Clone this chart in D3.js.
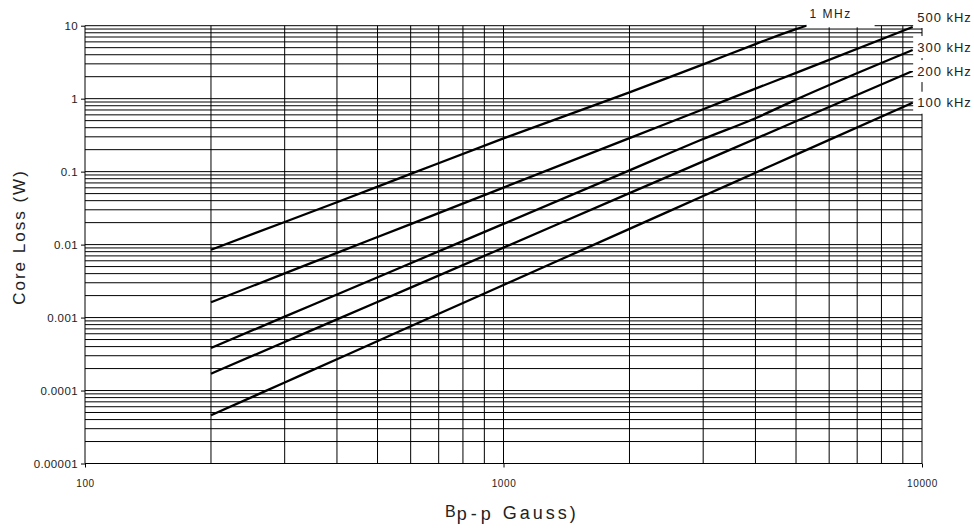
<!DOCTYPE html>
<html>
<head>
<meta charset="utf-8">
<script src="https://cdn.jsdelivr.net/npm/d3@7"></script>
<style>
    body { margin: 0; background: #fff; }
    text { font-family: "Liberation Sans", Arial, sans-serif; fill: #222; }
</style>
</head>
<body>
<div id="chart"></div>
<script>
// flux density (gauss) where the curves were read
const bGauss = [200, 300, 400, 600, 1000, 2000, 3000, 4000, 5000, 9500];
const bGauss1M = [200, 300, 400, 600, 1000, 2000, 3000, 4000, 5000, 5300];

const loss1MHz = [0.0085, 0.0204, 0.038, 0.093, 0.285, 1.22, 2.95, 5.6, 9.0, 10];
const loss500k = [0.00162, 0.00403, 0.0077, 0.0191, 0.0605, 0.288, 0.716, 1.37, 2.26, 9.6];
const loss300k = [0.000383, 0.00103, 0.00207, 0.00556, 0.0192, 0.104, 0.280, 0.54, 0.97, 4.64];
const loss200k = [0.00017, 0.000463, 0.000944, 0.00257, 0.0091, 0.0507, 0.138, 0.282, 0.49, 2.39];
const loss100k = [0.0000458, 0.000129, 0.000269, 0.00076, 0.0028, 0.0164, 0.0463, 0.0966, 0.171, 0.88];

const seriesNames = ["1 MHz", "500 kHz", "300 kHz", "200 kHz", "100 kHz"];
const xTickLabels = ["100", "1000", "10000"];
const yTickLabels = ["0.00001", "0.0001", "0.001", "0.01", "0.1", "1", "10"];

const width = 974;
const height = 529;

const series = [
    { name: seriesNames[0], b: bGauss1M, v: loss1MHz },
    { name: seriesNames[1], b: bGauss, v: loss500k },
    { name: seriesNames[2], b: bGauss, v: loss300k },
    { name: seriesNames[3], b: bGauss, v: loss200k },
    { name: seriesNames[4], b: bGauss, v: loss100k }
];

const x = d3.scaleLog().domain([100, 10000]).range([85, 922]);
const y = d3.scaleLog().domain([0.00001, 10]).range([463.5, 25.7]);

const svg = d3.select("#chart").append("svg")
    .attr("width", width)
    .attr("height", height);

// grid: every 1..9 of each decade
const xGrid = [];
for (let e = 2; e < 4; e++) for (let k = 1; k < 10; k++) xGrid.push(k * Math.pow(10, e));
xGrid.push(10000);
const yGrid = [];
for (let e = -5; e < 1; e++) for (let k = 1; k < 10; k++) yGrid.push(k * Math.pow(10, e));
yGrid.push(10);

svg.append("g").selectAll("line")
    .data(yGrid)
    .enter().append("line")
    .attr("x1", x(100)).attr("x2", x(10000))
    .attr("y1", d => y(d)).attr("y2", d => y(d))
    .style("stroke", "#000")
    .style("stroke-width", 1);

svg.append("g").selectAll("line")
    .data(xGrid)
    .enter().append("line")
    .attr("x1", d => x(d)).attr("x2", d => x(d))
    .attr("y1", y(10)).attr("y2", y(0.00001))
    .style("stroke", "#000")
    .style("stroke-width", 1);

// curves
const line = d3.line()
    .x(d => x(d[0]))
    .y(d => y(d[1]))
    .curve(d3.curveMonotoneX);

svg.append("g").selectAll("path")
    .data(series)
    .enter().append("path")
    .attr("d", s => line(s.b.map((b, i) => [b, s.v[i]])))
    .style("fill", "none")
    .style("stroke", "#000")
    .style("stroke-width", 2.3);

// axes ticks (decades only)
const xAxis = d3.axisBottom(x)
    .tickValues(xTickLabels.map(Number))
    .tickFormat((d, i) => xTickLabels[i])
    .tickSize(4);
const yAxis = d3.axisLeft(y)
    .tickValues(yTickLabels.map(Number))
    .tickFormat((d, i) => yTickLabels[i])
    .tickSize(4);

const gx = svg.append("g").attr("transform", `translate(0,${y(0.00001)})`).call(xAxis);
gx.select(".domain").remove();
gx.selectAll("text")
    .attr("y", 16)
    .style("font-size", "10px")
    .style("letter-spacing", "0.6px")
    .style("font-family", "Liberation Sans, Arial, sans-serif")
    .style("fill", "#222");

const gy = svg.append("g").attr("transform", `translate(${x(100)},0)`).call(yAxis);
gy.select(".domain").remove();
gy.selectAll("text")
    .attr("x", -7)
    .style("font-size", "11.5px")
    .style("letter-spacing", "0.4px")
    .style("font-family", "Liberation Sans, Arial, sans-serif")
    .style("fill", "#222");

// labels at curve ends, boxed in white like the original
const labelNudge = [0, -10, -3, 0, 0];
series.forEach((s, i) => {
    const bEnd = s.b[s.b.length - 1];
    const vEnd = s.v[s.v.length - 1];
    if (i === 0) {
        const lx = x(bEnd);
        svg.append("rect")
            .attr("x", lx).attr("y", 2)
            .attr("width", 68).attr("height", y(10) + 1.6 - 2)
            .style("fill", "#fff");
        svg.append("text")
            .attr("x", lx + 24).attr("y", y(vEnd) - 12)
            .attr("dy", "0.35em")
            .attr("text-anchor", "middle")
            .style("font-size", "12px")
            .style("letter-spacing", "1.5px")
            .text(s.name);
    } else {
        const ly = y(vEnd) + labelNudge[i];
        svg.append("rect")
            .attr("x", x(bEnd) + 0.5).attr("y", ly - 11)
            .attr("width", 62).attr("height", 22)
            .style("fill", "#fff");
        svg.append("text")
            .attr("x", x(bEnd) + 4.5).attr("y", ly)
            .attr("dy", "0.35em")
            .style("font-size", "13px")
            .style("letter-spacing", "1px")
            .text(s.name);
    }
});

// axis titles
svg.append("text")
    .attr("transform", "translate(25,237) rotate(-90)")
    .attr("text-anchor", "middle")
    .style("font-size", "17px")
    .style("letter-spacing", "2px")
    .text("Core Loss (W)");

const xt = svg.append("text")
    .attr("x", 445).attr("y", 516.7);
xt.append("tspan")
    .style("font-size", "16px")
    .text("B");
xt.append("tspan")
    .attr("dx", 1).attr("dy", 3)
    .style("font-size", "18px")
    .style("letter-spacing", "4px")
    .text("p-p");
xt.append("tspan")
    .attr("dy", -0.3)
    .style("font-size", "18px")
    .style("letter-spacing", "3px")
    .text(" Gauss)");
</script>
</body>
</html>
